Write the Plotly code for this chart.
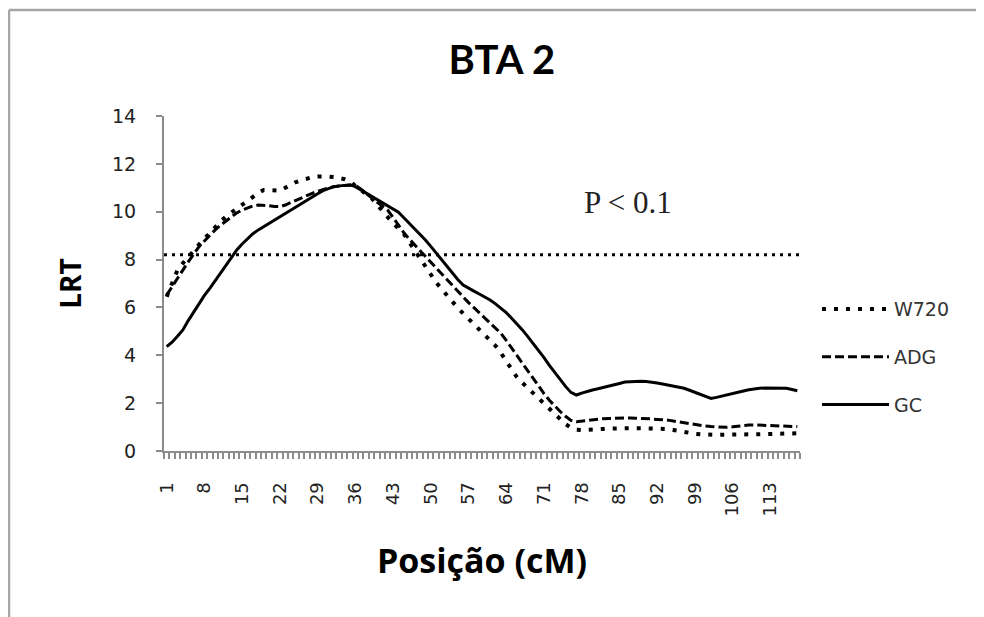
import plotly.graph_objects as go

# ---- data ----
positions = list(range(1, 119))
tick_labels = [str(v) for v in range(1, 114, 7)]

w720 = [6.45, 7.00, 7.56, 7.85, 8.12, 8.40, 8.64, 8.88, 9.10, 9.36,
        9.60, 9.80, 9.97, 10.12, 10.27, 10.45, 10.62, 10.78, 10.91, 10.90,
        10.85, 10.88, 11.00, 11.13, 11.24, 11.32, 11.39, 11.44, 11.47, 11.48,
        11.47, 11.45, 11.42, 11.36, 11.26, 11.10, 10.93, 10.75, 10.57, 10.30,
        10.02, 9.75, 9.52, 9.30, 9.07, 8.73, 8.39, 8.05, 7.71, 7.38,
        7.04, 6.77, 6.50, 6.22, 5.98, 5.75, 5.52, 5.30, 5.08, 4.85,
        4.62, 4.40, 4.10, 3.75, 3.40, 3.08, 2.85, 2.63, 2.41, 2.18,
        1.95, 1.73, 1.52, 1.32, 1.12, 0.98, 0.89, 0.88, 0.88, 0.89,
        0.91, 0.92, 0.94, 0.95, 0.95, 0.95, 0.95, 0.95, 0.95, 0.95,
        0.95, 0.95, 0.95, 0.92, 0.88, 0.83, 0.78, 0.75, 0.72, 0.70,
        0.68, 0.67, 0.67, 0.68, 0.69, 0.70, 0.70, 0.70, 0.70, 0.70,
        0.70, 0.70, 0.70, 0.70, 0.70, 0.70, 0.72, 0.74]

adg = [6.52, 6.85, 7.20, 7.56, 7.90, 8.22, 8.54, 8.78, 9.02, 9.24,
       9.44, 9.62, 9.80, 9.95, 10.07, 10.17, 10.24, 10.28, 10.28, 10.25,
       10.22, 10.21, 10.28, 10.38, 10.49, 10.58, 10.68, 10.77, 10.85, 10.93,
       10.99, 11.04, 11.08, 11.10, 11.12, 11.10, 10.95, 10.76, 10.56, 10.40,
       10.24, 10.07, 9.76, 9.44, 9.12, 8.86, 8.62, 8.38, 8.12, 7.87,
       7.63, 7.39, 7.15, 6.90, 6.66, 6.42, 6.20, 5.99, 5.78, 5.56,
       5.35, 5.13, 4.92, 4.62, 4.30, 3.98, 3.66, 3.34, 3.02, 2.69,
       2.40, 2.12, 1.88, 1.65, 1.45, 1.28, 1.22, 1.25, 1.29, 1.31,
       1.33, 1.35, 1.36, 1.37, 1.38, 1.38, 1.38, 1.37, 1.37, 1.36,
       1.34, 1.32, 1.31, 1.29, 1.25, 1.21, 1.17, 1.13, 1.10, 1.07,
       1.04, 1.02, 1.00, 0.99, 0.99, 1.01, 1.04, 1.07, 1.09, 1.09,
       1.08, 1.06, 1.05, 1.05, 1.04, 1.03, 1.02, 1.02]

gc = [4.36, 4.55, 4.80, 5.06, 5.45, 5.80, 6.17, 6.50, 6.80, 7.12,
      7.43, 7.75, 8.08, 8.40, 8.65, 8.88, 9.08, 9.24, 9.38, 9.52,
      9.65, 9.79, 9.93, 10.07, 10.21, 10.35, 10.49, 10.62, 10.75, 10.88,
      10.98, 11.05, 11.08, 11.10, 11.12, 11.05, 10.92, 10.78, 10.63, 10.50,
      10.38, 10.25, 10.12, 9.98, 9.75, 9.52, 9.30, 9.08, 8.82, 8.55,
      8.27, 7.98, 7.70, 7.42, 7.17, 6.94, 6.80, 6.68, 6.56, 6.45,
      6.31, 6.15, 5.98, 5.78, 5.55, 5.31, 5.06, 4.78, 4.50, 4.22,
      3.90, 3.58, 3.28, 2.97, 2.70, 2.45, 2.34, 2.42, 2.50, 2.55,
      2.60, 2.65, 2.69, 2.75, 2.82, 2.88, 2.90, 2.91, 2.91, 2.90,
      2.88, 2.84, 2.80, 2.76, 2.72, 2.67, 2.62, 2.54, 2.45, 2.36,
      2.27, 2.20, 2.24, 2.30, 2.36, 2.41, 2.46, 2.51, 2.56, 2.60,
      2.62, 2.63, 2.63, 2.63, 2.63, 2.62, 2.57, 2.52]

threshold = 8.2
threshold_label = "P < 0.1"
threshold_label_pos = (86.5, 10.4)

AXIS_GRAY = "#8c8c8c"

fig = go.Figure()
fig.add_trace(go.Scatter(x=positions, y=w720, name="W720", mode="lines",
                         legendgroup="a",
                         line=dict(color="black", width=4, dash="4px,8px")))
fig.add_trace(go.Scatter(x=positions, y=adg, name="ADG", mode="lines",
                         legendgroup="b",
                         line=dict(color="black", width=3, dash="9px,4px")))
fig.add_trace(go.Scatter(x=positions, y=gc, name="GC", mode="lines",
                         legendgroup="c",
                         line=dict(color="black", width=3)))

fig.add_hline(y=threshold, line=dict(color="black", width=3, dash="3px,5px"))

fig.add_annotation(x=threshold_label_pos[0], y=threshold_label_pos[1],
                   text=threshold_label, showarrow=False,
                   font=dict(family="Liberation Serif", size=31, color="#222"))

# outer frame (top and left border of the original picture)
fig.add_shape(type="line", xref="paper", yref="paper",
              x0=-0.2437, x1=1.35, y0=1.3164, y1=1.3164,
              line=dict(color="#a6a6a6", width=2.5))
fig.add_shape(type="line", xref="paper", yref="paper",
              x0=-0.2437, x1=-0.2437, y0=1.3164, y1=-0.55,
              line=dict(color="#a6a6a6", width=2.5))

fig.update_layout(
    width=976, height=609,
    margin=dict(l=156, r=184, t=108, b=166),
    paper_bgcolor="white", plot_bgcolor="white",
    showlegend=True,
    title=dict(text="<b>BTA 2</b>", x=0.506, xanchor="center",
               y=0.9146, yanchor="middle",
               font=dict(family="Lato", size=40, color="black")),
    legend=dict(x=1.0267, xanchor="left", y=0.28, yanchor="middle",
                itemwidth=67,
                font=dict(family="DejaVu Sans", size=19, color="#333"),
                tracegroupgap=20, traceorder="grouped",
                bgcolor="rgba(0,0,0,0)"),
    xaxis=dict(
        range=[0.5, 118.5], showgrid=False, zeroline=False,
        showline=True, linecolor=AXIS_GRAY, linewidth=2,
        tickmode="array", tickvals=[int(t) for t in tick_labels],
        ticktext=tick_labels, tickangle=-90, ticks="",
        ticklabelstandoff=22,
        tickfont=dict(family="DejaVu Sans", size=18, color="#222"),
        minor=dict(ticks="outside", tickmode="linear", tick0=0.5, dtick=1,
                   ticklen=6, tickcolor=AXIS_GRAY, tickwidth=1.5),
        title=dict(text="<b>Posição (cM)</b>", standoff=34,
                   font=dict(family="Open Sans", size=34, color="black")),
    ),
    yaxis=dict(
        range=[0, 14], dtick=2, showgrid=False, zeroline=False,
        showline=True, linecolor=AXIS_GRAY, linewidth=2,
        ticks="outside", ticklen=6, tickcolor=AXIS_GRAY, tickwidth=1.5,
        ticklabelstandoff=16,
        tickfont=dict(family="DejaVu Sans", size=19, color="#222"),
        title=dict(text="<b>LRT</b>", standoff=22,
                   font=dict(family="Open Sans", size=28, color="black")),
    ),
)

fig.write_html("out.html")
